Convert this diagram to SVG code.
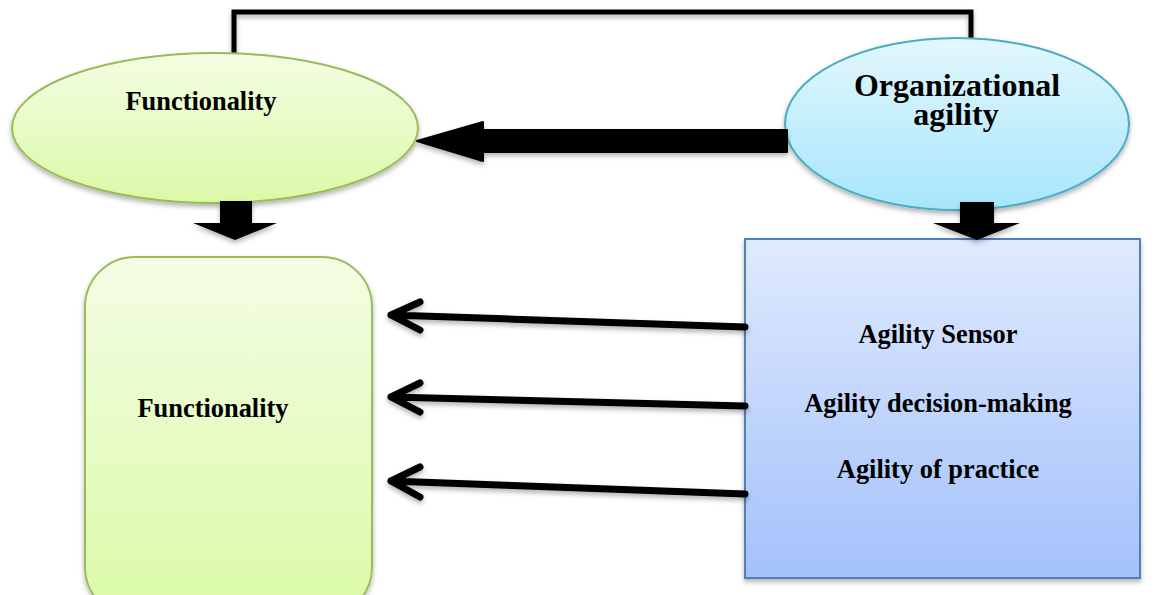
<svg xmlns="http://www.w3.org/2000/svg" width="1162" height="595" viewBox="0 0 1162 595">
<style>
.lbl{font-family:"Liberation Serif","Times New Roman",serif;font-weight:bold;fill:#000;text-anchor:middle}
.s26{font-size:26.4px}
.s32{font-size:32px}
.thin{fill:none;stroke:#000;stroke-width:7;stroke-linecap:round;stroke-linejoin:round}
</style>
<defs>
<linearGradient id="gGreen" x1="0" y1="0" x2="0" y2="1">
<stop offset="0" stop-color="#f4fde4"/>
<stop offset="1" stop-color="#dafaa6"/>
</linearGradient>
<linearGradient id="gCyan" x1="0" y1="0" x2="0" y2="1">
<stop offset="0" stop-color="#e3f7fd"/>
<stop offset="1" stop-color="#a6e6fb"/>
</linearGradient>
<linearGradient id="gBlue" x1="0" y1="0" x2="0" y2="1">
<stop offset="0" stop-color="#e0eafd"/>
<stop offset="1" stop-color="#a3c1fb"/>
</linearGradient>
<filter id="sh" x="-10%" y="-10%" width="120%" height="130%">
<feDropShadow dx="0" dy="3" stdDeviation="2.5" flood-color="#000" flood-opacity="0.3"/>
</filter>
</defs>

<g id="connectors">
<path d="M234,53 V12 H971 V52" fill="none" stroke="#000" stroke-width="5" filter="url(#sh)"/>
</g>

<g id="node-functionality-top">
<ellipse cx="215" cy="128" rx="203" ry="75" fill="url(#gGreen)" stroke="#9bbb59" stroke-width="2" filter="url(#sh)"/>
<text class="lbl s26" x="201" y="110">Functionality</text>
</g>

<g id="node-org-agility">
<ellipse cx="957" cy="124" rx="172" ry="86" fill="url(#gCyan)" stroke="#4bacc6" stroke-width="2" filter="url(#sh)"/>
<text class="lbl s32" x="957" y="96">Organizational</text>
<text class="lbl s32" x="956" y="125">agility</text>
</g>

<g id="node-functionality-box">
<rect x="85" y="257" width="287" height="360" rx="50" ry="50" fill="url(#gGreen)" stroke="#9bbb59" stroke-width="2" filter="url(#sh)"/>
<text class="lbl s26" x="213" y="417">Functionality</text>
</g>

<g id="node-agility-box">
<rect x="745" y="239" width="395" height="339" fill="url(#gBlue)" stroke="#4f81bd" stroke-width="2" filter="url(#sh)"/>
<text class="lbl s26" x="938" y="343">Agility Sensor</text>
<text class="lbl s26" x="938" y="412">Agility decision-making</text>
<text class="lbl s26" x="938" y="478">Agility of practice</text>
</g>

<g id="arrows" filter="url(#sh)">
<path d="M787,130 V152 H483 V161 L417,141 L483,122 V130 Z" fill="#000" stroke="#000" stroke-width="2" stroke-linejoin="round"/>
<path d="M220,201 H252 V223 H277 L235,240 L193,223 H220 Z" fill="#000"/>
<path d="M960,202 H994 V223 H1020 L977,240 L933,223 H960 Z" fill="#000"/>
<path class="thin" d="M745,327 L391,315 M420,302 L391,315 L420,330"/>
<path class="thin" d="M745,406 L391,397 M420,383 L391,397 L420,412"/>
<path class="thin" d="M745,494 L391,481 M420,467 L391,481 L420,497"/>
</g>
</svg>
